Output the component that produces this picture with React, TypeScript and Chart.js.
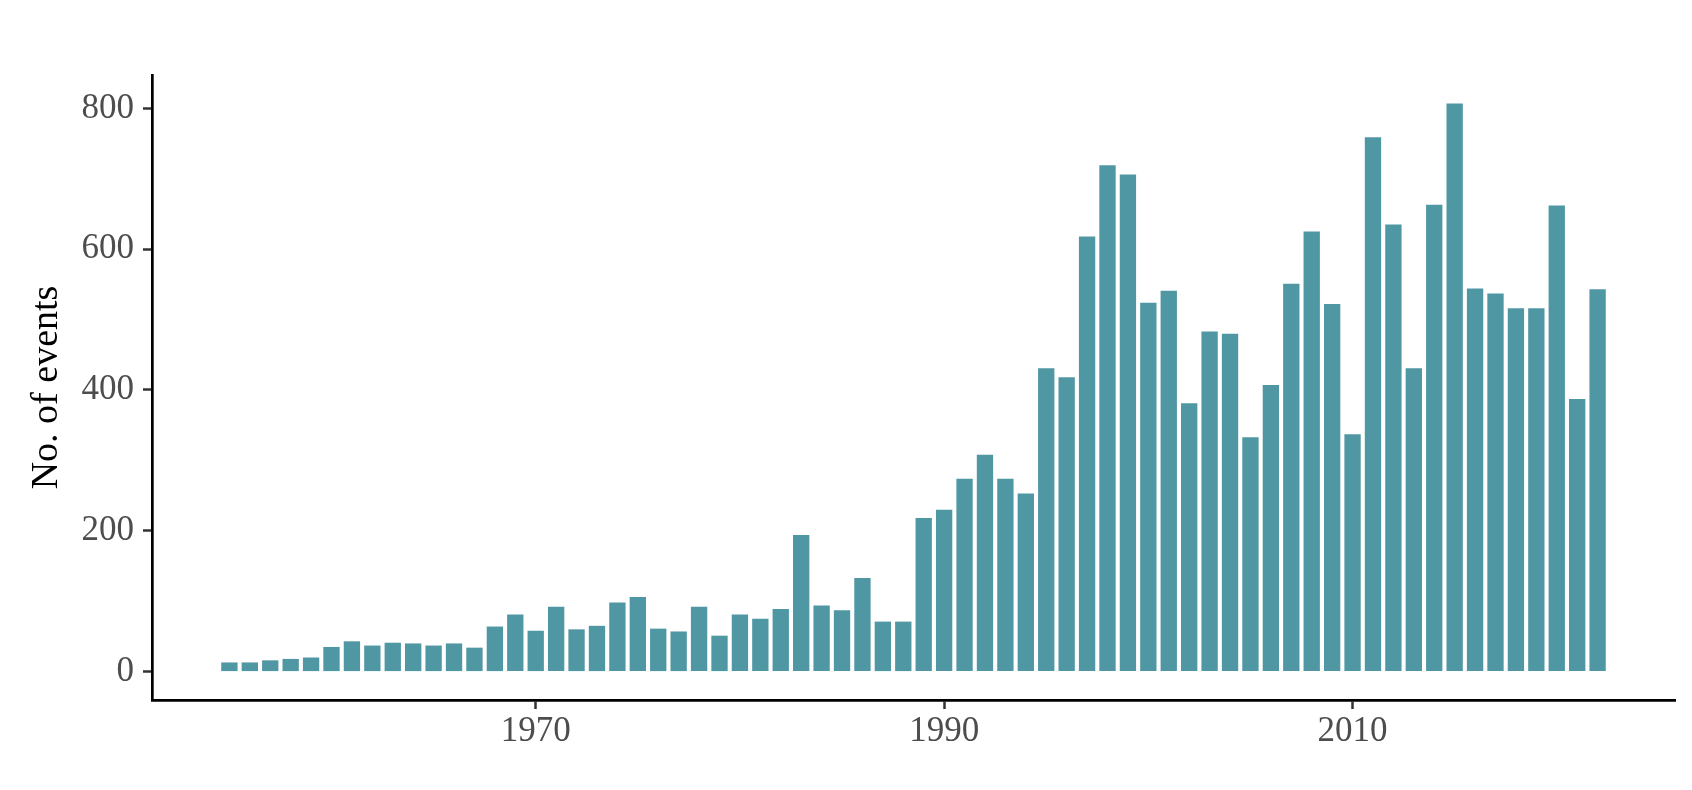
import React, { useEffect, useRef } from "react";
import { Chart, registerables } from "chart.js";

Chart.register(...registerables);

const years = [
  1955, 1956, 1957, 1958, 1959, 1960, 1961, 1962, 1963, 1964,
  1965, 1966, 1967, 1968, 1969, 1970, 1971, 1972, 1973, 1974,
  1975, 1976, 1977, 1978, 1979, 1980, 1981, 1982, 1983, 1984,
  1985, 1986, 1987, 1988, 1989, 1990, 1991, 1992, 1993, 1994,
  1995, 1996, 1997, 1998, 1999, 2000, 2001, 2002, 2003, 2004,
  2005, 2006, 2007, 2008, 2009, 2010, 2011, 2012, 2013, 2014,
  2015, 2016, 2017, 2018, 2019, 2020, 2021, 2022,
];

const events = [
  13, 13, 16, 18, 20, 35, 43, 37, 41, 40,
  37, 40, 34, 64, 81, 58, 92, 60, 65, 98,
  106, 61, 57, 92, 51, 81, 75, 89, 194, 94,
  87, 133, 71, 71, 218, 230, 274, 308, 274, 253,
  431, 418, 618, 719, 706, 524, 541, 381, 483, 480,
  333, 407, 551, 625, 522, 337, 759, 635, 431, 663,
  807, 544, 537, 516, 516, 662, 387, 543,
];

const xTicks = [1970, 1990, 2010];
const yTicks = [0, 200, 400, 600, 800];
const yTitle = "No. of events";

const BAR_COLOR = "#5097A4";
const FONT = "'Liberation Serif', 'Times New Roman', serif";

export default function App() {
  const canvasRef = useRef<HTMLCanvasElement | null>(null);

  useEffect(() => {
    document.body.style.margin = "0";
    document.body.style.overflow = "hidden";
    const canvas = canvasRef.current;
    if (!canvas) return;

    const barWidth = 0.8;
    const xSpan = years[years.length - 1] - years[0] + barWidth;
    const xMin = years[0] - barWidth / 2 - 0.05 * xSpan;
    const xMax = years[years.length - 1] + barWidth / 2 + 0.05 * xSpan;
    const yMaxData = Math.max(...events);
    const yMin = -0.05 * yMaxData;
    const yMax = yMaxData * 1.05;

    const chart = new Chart(canvas, {
      type: "bar",
      data: {
        datasets: [
          {
            data: years.map((y, i) => ({ x: y, y: events[i] })),
            backgroundColor: BAR_COLOR,
            borderWidth: 0,
            inflateAmount: 0,
            barPercentage: barWidth,
            categoryPercentage: 1,
          },
        ],
      },
      options: {
        animation: false,
        responsive: true,
        maintainAspectRatio: false,
        layout: { padding: { top: 75, right: 17, left: 0, bottom: 0 } },
        plugins: {
          legend: { display: false },
          tooltip: { enabled: false },
        },
        scales: {
          x: {
            type: "linear",
            min: xMin,
            max: xMax,
            offset: false,
            afterBuildTicks: (scale: any) => {
              scale.ticks = xTicks.map((v) => ({ value: v }));
            },
            afterFit: (scale: any) => {
              scale.height = 90;
            },
            grid: {
              display: true,
              offset: false,
              drawOnChartArea: false,
              drawTicks: true,
              tickLength: 9,
              tickColor: "#333333",
              tickWidth: 2.5,
            },
            border: { display: true, color: "#000000", width: 2.7 },
            ticks: {
              color: "#4D4D4D",
              font: { family: FONT, size: 35 },
              padding: 2,
              maxRotation: 0,
              autoSkip: false,
              callback: (v: any) => String(v),
            },
          },
          y: {
            type: "linear",
            min: yMin,
            max: yMax,
            afterBuildTicks: (scale: any) => {
              scale.ticks = yTicks.map((v) => ({ value: v }));
            },
            afterFit: (scale: any) => {
              scale.width = 152;
            },
            grid: {
              display: true,
              drawOnChartArea: false,
              drawTicks: true,
              tickLength: 9,
              tickColor: "#333333",
              tickWidth: 2.5,
            },
            border: { display: true, color: "#000000", width: 2.7 },
            ticks: {
              color: "#4D4D4D",
              font: { family: FONT, size: 35 },
              padding: 9,
              callback: (v: any) => String(v),
            },
            title: {
              display: true,
              text: yTitle,
              color: "#000000",
              font: { family: FONT, size: 38 },
              padding: { top: 24, bottom: 0 },
            },
          },
        },
      },
    });

    return () => chart.destroy();
  }, []);

  return (
    <div
      style={{
        position: "absolute",
        left: 0,
        top: 0,
        width: 1692,
        height: 790,
        background: "#ffffff",
      }}
    >
      <canvas ref={canvasRef} />
    </div>
  );
}
